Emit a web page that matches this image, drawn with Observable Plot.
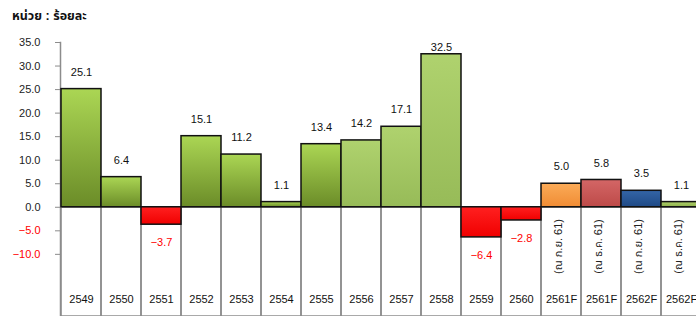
<!DOCTYPE html>
<html><head><meta charset="utf-8">
<script src="https://cdn.jsdelivr.net/npm/d3@7"></script>
<script src="https://cdn.jsdelivr.net/npm/@observablehq/plot@0.6"></script>
<style>
html,body{margin:0;padding:0;background:#fff;}
body{width:696px;height:316px;overflow:hidden;position:relative;}
#title{position:absolute;left:12px;top:7px;font-weight:bold;font-size:12.5px;color:#111;
  font-family:Tahoma,"Liberation Sans",Arial,"Noto Sans Thai",sans-serif;}
</style></head><body>
<div id="chart"></div><div id="title">หน่วย : ร้อยละ</div>
<script>
const years = ["2549","2550","2551","2552","2553","2554","2555","2556","2557","2558","2559","2560","2561F","2561F","2562F","2562F"];
const growth = [25.1, 6.4, -3.7, 15.1, 11.2, 1.1, 13.4, 14.2, 17.1, 32.5, -6.4, -2.8, 5.0, 5.8, 3.5, 1.1];
const notes = ["","","","","","","","","","","","","(ณ ก.ย. 61)","(ณ ธ.ค. 61)","(ณ ก.ย. 61)","(ณ ธ.ค. 61)"];
const series = ["hist","hist","neg","hist","hist","hist","hist","recent","recent","recent","neg","neg","fcA","fcB","fcC","fcD"];
const yTicks = [35, 30, 25, 20, 15, 10, 5, 0, -5, -10];

const gradients = {
  hist: ["#abd654", "#6b8c28"],
  recent: ["#afd26e", "#97bb58"],
  neg: ["#ff2020", "#f00000"],
  fcA: ["#fbab58", "#f08c34"],
  fcB: ["#d46666", "#bd4a48"],
  fcC: ["#3465a6", "#1f4a86"],
  fcD: ["#aed06a", "#8fb14c"]
};

const rows = years.map((y, i) => ({i, year: y, v: growth[i], note: notes[i], s: series[i]}));
const fmt = v => v.toFixed(1).replace("-", "−");
const yMin = -23.2, yMax = 35;
const font = 'Tahoma,"Liberation Sans",Arial,"Noto Sans Thai",sans-serif';

const chart = Plot.plot({
  width: 704, height: 316,
  marginLeft: 60, marginRight: 2, marginTop: 42, marginBottom: 0,
  style: {fontFamily: font, fontSize: "11px", background: "#fff", maxWidth: "none", overflow: "visible"},
  x: {type: "band", domain: d3.range(years.length), padding: 0, axis: null},
  y: {domain: [yMin, yMax], axis: null},
  color: {type: "identity"},
  marks: [
    Plot.barY(rows, {x: "i", y1: 0, y2: yMin, fill: "none", stroke: "#8c8c8c", strokeWidth: 1.5}),
    Plot.ruleY([0], {stroke: "#9a9a9a", strokeWidth: 1.5}),
    Plot.frame({anchor: "left", stroke: "#8c8c8c", strokeWidth: 1.5}),
    Plot.axisY({ticks: yTicks, tickFormat: fmt, tickSize: 5, tickPadding: 15, stroke: "#8c8c8c", label: null,
      fill: d => d < 0 ? "#ff0000" : "#222", fontSize: 11}),
    Plot.barY(rows, {x: "i", y: "v", fill: d => `url(#grad-${d.s})`, stroke: "#111", strokeWidth: 1.5}),
    Plot.text(rows.filter(d => d.v >= 0), {x: "i", y: d => Math.min(d.v, 30.3), text: d => fmt(d.v), dy: -17, fill: "#111", fontSize: 11}),
    Plot.text(rows.filter(d => d.v < 0), {x: "i", y: "v", text: d => fmt(d.v), dy: 18, fill: "#ff0000", fontSize: 11}),
    Plot.text(rows, {x: "i", text: "year", frameAnchor: "bottom", dy: -14, fill: "#111", fontSize: 11}),
    Plot.text(rows.filter(d => d.note), {x: "i", text: "note", rotate: -90, frameAnchor: "bottom", dy: -70, fill: "#222", fontSize: 11})
  ]
});

const svg = d3.select(chart);
const defs = svg.insert("defs", ":first-child");
for (const [k, [c0, c1]] of Object.entries(gradients)) {
  const g = defs.append("linearGradient").attr("id", "grad-" + k).attr("x1", 0).attr("y1", 0).attr("x2", 0).attr("y2", 1);
  g.append("stop").attr("offset", "0%").attr("stop-color", c0);
  g.append("stop").attr("offset", "100%").attr("stop-color", c1);
}
document.getElementById("chart").append(chart);
</script>
</body></html>
